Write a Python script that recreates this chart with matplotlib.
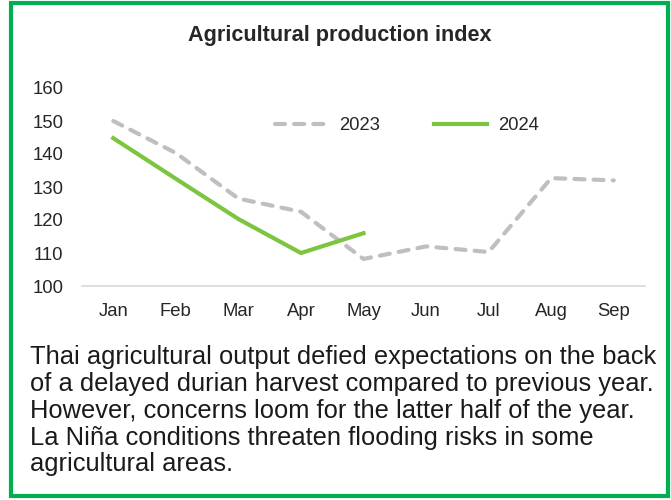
import matplotlib
matplotlib.use("Agg")
import matplotlib.pyplot as plt
from matplotlib.patches import Rectangle

plt.rcParams['font.family'] = ['Liberation Sans', 'DejaVu Sans']

months = ["Jan", "Feb", "Mar", "Apr", "May", "Jun", "Jul", "Aug", "Sep"]
idx_2023 = [150.0, 140.3, 126.5, 122.5, 108.2, 112.0, 110.3, 132.7, 132.0]
idx_2024 = [144.8, 132.5, 120.3, 110.0, 116.0]
y_ticks = [100, 110, 120, 130, 140, 150, 160]
title = "Agricultural production index"
caption = ("Thai agricultural output defied expectations on the back\n"
           "of a delayed durian harvest compared to previous year.\n"
           "However, concerns loom for the latter half of the year.\n"
           "La Niña conditions threaten flooding risks in some\n"
           "agricultural areas.")

W, H = 671, 500
fig = plt.figure(figsize=(W / 100, H / 100), dpi=100)

# green frame around the whole panel
fig.patches.append(Rectangle((11 / W, 4 / H), 657 / W, 493 / H,
                             transform=fig.transFigure, fill=False,
                             edgecolor="#00B050", linewidth=3.0))

ax = fig.add_axes([82 / W, (H - 286) / H, 563 / W, 198 / H])
x = list(range(len(months)))
ax.plot(x, idx_2023, color="#BFBFBF", linewidth=3.0, linestyle=(0, (2.4, 2.2)),
        dash_capstyle="round", label="2023")
ax.plot(x[:len(idx_2024)], idx_2024, color="#7DC540", linewidth=3.0,
        label="2024")

ax.set_xlim(-0.5, len(months) - 0.5)
ax.set_ylim(100, 160)
ax.set_yticks(y_ticks)
ax.set_xticks(x)
ax.set_xticklabels(months)
ax.tick_params(length=0, labelsize=13.3, colors="#262626")
ax.tick_params(axis="x", pad=12)
ax.tick_params(axis="y", pad=13.5)
for s in ["top", "right", "left"]:
    ax.spines[s].set_visible(False)
ax.spines["bottom"].set_color("#D9D9D9")
ax.spines["bottom"].set_linewidth(1.2)

leg = fig.legend(handles=ax.get_lines(), loc="center left",
                 bbox_to_anchor=(258 / W, 1 - 126 / H),
                 ncol=2, frameon=False, fontsize=13.3, handlelength=2.9,
                 columnspacing=2.9, handletextpad=0.6)
for t in leg.get_texts():
    t.set_color("#262626")

fig.text(340 / W, 1 - 35 / H, title, ha="center", va="center",
         fontsize=15.6, fontweight="bold", color="#262626")

fig.text(30 / W, 1 - 345 / H, caption, ha="left", va="top",
         fontsize=18.4, color="#1a1a1a", linespacing=1.15)

fig.savefig("out.png", dpi=100)
